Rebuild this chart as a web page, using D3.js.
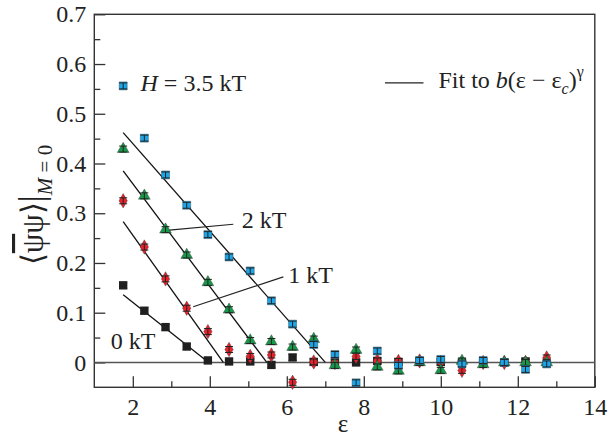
<!DOCTYPE html>
<html>
<head>
<meta charset="utf-8">
<script src="https://cdn.jsdelivr.net/npm/d3@7"></script>
<style>
  body { margin: 0; background: #fff; }
  svg { font-family: "Times New Roman", "Liberation Serif", Tinos, Times, serif; }
  .axis path { display: none; }
  .axis line { stroke: #333; stroke-width: 1.3; }
  .axis text { font-size: 24px; fill: #222; font-family: "Times New Roman", "Liberation Serif", Times, serif; }
</style>
</head>
<body>
<div id="chart"></div>
<script>
// epsilon values shared by all series
let eps = [1.75, 2.3, 2.85, 3.4, 3.95, 4.5, 5.05, 5.6, 6.15, 6.7, 7.25,
           7.8, 8.35, 8.9, 9.45, 10.0, 10.55, 11.1, 11.65, 12.2, 12.75];

// <psibar psi> at M = 0, one array per H
let h35 = [0.556, 0.451, 0.377, 0.316, 0.257, 0.212, 0.184, 0.124, 0.077, 0.036, 0.016,
           -0.041, 0.023, -0.006, 0.004, 0.006, -0.003, 0.004, 0.000, -0.014, -0.003];
let h2  = [0.429, 0.335, 0.267, 0.216, 0.161, 0.106, 0.044, 0.042, 0.031, 0.047, -0.006,
           0.025, -0.009, -0.017, 0.000, -0.016, 0.003, -0.004, 0.000, 0.000, 0.000];
let h1  = [0.325, 0.232, 0.168, 0.109, 0.062, 0.026, 0.012, 0.015, -0.040, 0.001, 0.000,
           0.012, 0.003, 0.002, 0.003, 0.000, -0.016, 0.000, 0.000, 0.000, 0.009];
let h0  = [0.155, 0.104, 0.071, 0.032, 0.004, 0.002, 0.002, -0.005, 0.010, 0.001, 0.000,
           0.000, 0.003, 0.001, 0.002, 0.001, 0.000, 0.001, 0.000, 0.002];
let errBar = 0.006;

// fitted straight segments b(eps - eps_c)^gamma
let fitH35 = [[1.75, 0.462], [7.0, 0]];
let fitH2  = [[1.75, 0.385], [5.48, 0]];
let fitH1  = [[1.75, 0.283], [4.35, 0]];
let fitH0  = [[1.75, 0.136], [3.97, 0]];

let xTicks = [2, 4, 6, 8, 10, 12, 14],
    xMinor = [3, 5, 7, 9, 11, 13],
    yTicks = [0, 0.1, 0.2, 0.3, 0.4, 0.5, 0.6, 0.7],
    yMinor = [0.05, 0.15, 0.25, 0.35, 0.45, 0.55, 0.65];

let width = 610, height = 440;

let x = d3.scaleLinear().domain([1, 14]).range([94.3, 594.8]);
let y = d3.scaleLinear().domain([-0.05, 0.7]).range([387.3, 14.3]);

let svg = d3.select('#chart').append('svg')
    .attr('width', width)
    .attr('height', height);

// axes (ticks point inward)
svg.append('g')
    .attr('class', 'x axis')
    .attr('transform', 'translate(0,' + y(-0.05) + ')')
    .call(d3.axisBottom(x).tickValues(xTicks).tickSize(-11).tickPadding(11).tickFormat(d3.format('d')));
svg.append('g')
    .attr('class', 'x axis')
    .attr('transform', 'translate(0,' + y(-0.05) + ')')
    .call(d3.axisBottom(x).tickValues(xMinor).tickSize(-6).tickFormat(''));
svg.append('g')
    .attr('class', 'y axis')
    .attr('transform', 'translate(' + x(1) + ',0)')
    .call(d3.axisLeft(y).tickValues(yTicks).tickSize(-11).tickPadding(8)
          .tickFormat((d) => d === 0 ? '0' : d3.format('.1f')(d)));
svg.append('g')
    .attr('class', 'y axis')
    .attr('transform', 'translate(' + x(1) + ',0)')
    .call(d3.axisLeft(y).tickValues(yMinor).tickSize(-6).tickFormat(''));

// frame
svg.append('rect')
    .attr('x', x(1)).attr('y', y(0.7))
    .attr('width', x(14) - x(1)).attr('height', y(-0.05) - y(0.7))
    .attr('fill', 'none').attr('stroke', '#333').attr('stroke-width', 1.4);

// zero line
svg.append('line')
    .attr('x1', x(1)).attr('x2', x(14))
    .attr('y1', y(0)).attr('y2', y(0))
    .attr('stroke', '#555').attr('stroke-width', 1.5);

let line = d3.line().x((d) => x(d[0])).y((d) => y(d[1]));
[fitH35, fitH2, fitH1, fitH0].forEach(function(f) {
    svg.append('path').datum(f).attr('d', line)
	.attr('fill', 'none').attr('stroke', '#111').attr('stroke-width', 1.3);
});

let series = [
    { vals: h0,  color: '#1f1f1f', sym: d3.symbolSquare,   size: 70 },
    { vals: h1,  color: '#e8212b', sym: d3.symbolDiamond,  size: 60 },
    { vals: h2,  color: '#17984a', sym: d3.symbolTriangle, size: 60 },
    { vals: h35, color: '#1aa6e8', sym: d3.symbolSquare,   size: 64 }
];

series.forEach(function(s) {
    let pts = s.vals.map((v, i) => ({ e: eps[i], v: v }));
    let g = svg.append('g');
    g.selectAll('path.mark').data(pts).enter().append('path')
	.attr('class', 'mark')
	.attr('transform', (d) => 'translate(' + x(d.e) + ',' + y(d.v) + ')')
	.attr('d', d3.symbol().type(s.sym).size(s.size))
	.attr('fill', s.color)
	.attr('stroke', s.color === '#1f1f1f' ? 'none' : '#333')
	.attr('stroke-width', 0.4);
    // error bars
    let eb = g.selectAll('g.err').data(pts).enter().append('g')
	.attr('class', 'err')
	.attr('stroke', '#222').attr('stroke-width', 1);
    eb.append('line')
	.attr('x1', (d) => x(d.e)).attr('x2', (d) => x(d.e))
	.attr('y1', (d) => y(d.v - errBar)).attr('y2', (d) => y(d.v + errBar));
    [-errBar, errBar].forEach(function(o) {
	eb.append('line')
	    .attr('x1', (d) => x(d.e) - 4).attr('x2', (d) => x(d.e) + 4)
	    .attr('y1', (d) => y(d.v + o)).attr('y2', (d) => y(d.v + o));
    });
});

// annotations
let ann = svg.append('g').attr('font-size', 24).attr('fill', '#222');

ann.append('text').attr('x', x(2.2)).attr('y', y(0.546))
    .call((t) => {
	t.append('tspan').attr('font-style', 'italic').text('H');
	t.append('tspan').text(' = 3.5 kT');
    });

ann.append('text').attr('x', x(4.83)).attr('y', y(0.270)).text('2 kT');
ann.append('text').attr('x', x(6.04)).attr('y', y(0.159)).text('1 kT');
ann.append('text').attr('x', x(1.43)).attr('y', y(0.027)).text('0 kT');

let leaders = [[[2.95, 0.266], [4.61, 0.278]], [[3.57, 0.112], [5.91, 0.172]]];
leaders.forEach(function(l) {
    svg.append('path').datum(l).attr('d', line)
	.attr('fill', 'none').attr('stroke', '#222').attr('stroke-width', 1.1);
});

// legend
svg.append('path').datum([[8.55, 0.562], [9.55, 0.562]]).attr('d', line)
    .attr('stroke', '#222').attr('stroke-width', 1.3);
ann.append('text').attr('x', x(9.94)).attr('y', y(0.551))
    .call((t) => {
	t.append('tspan').text('Fit to ');
	t.append('tspan').attr('font-style', 'italic').text('b');
	t.append('tspan').text('(\u03b5 \u2212 \u03b5');
	t.append('tspan').attr('font-style', 'italic').attr('font-size', 16).attr('dy', 6).text('c');
	t.append('tspan').attr('dy', -6).text(')');
	t.append('tspan').attr('font-size', 16).attr('dy', -11).text('\u03b3');
    });

// axis titles
svg.append('text').attr('x', x(7.46)).attr('y', 432)
    .attr('text-anchor', 'middle').attr('font-size', 25).attr('fill', '#222')
    .text('\u03b5');

let yl = svg.append('text')
    .attr('transform', 'translate(43,' + 205 + ') rotate(-90)')
    .attr('text-anchor', 'middle').attr('font-size', 31).attr('fill', '#222');
yl.append('tspan').text('\u27e8');
yl.append('tspan').attr('text-decoration', 'overline').text('\u03c8');
yl.append('tspan').text('\u03c8\u27e9');
yl.append('tspan').attr('font-size', 36).text('|');
yl.append('tspan').attr('font-size', 21).attr('dy', 9)
    .call((t) => {
	t.append('tspan').attr('font-style', 'italic').text('M');
	t.append('tspan').text(' = 0');
    });
</script>
</body>
</html>
